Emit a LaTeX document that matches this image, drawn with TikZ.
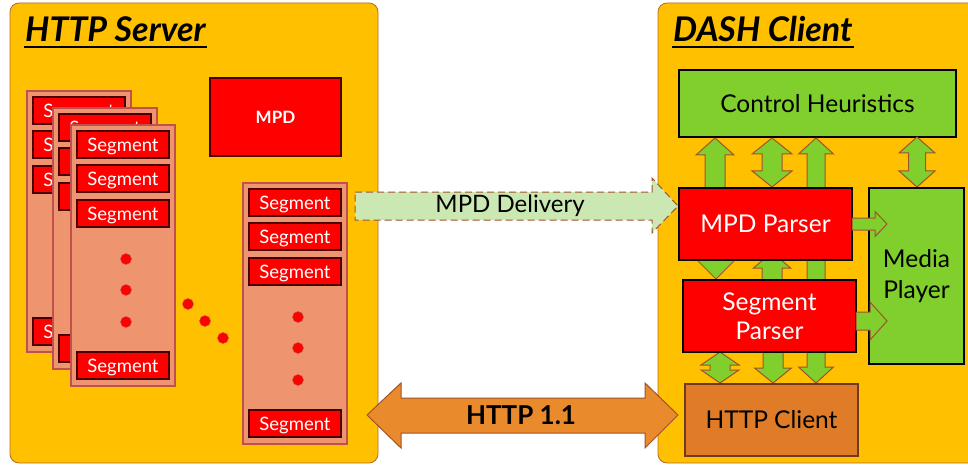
\documentclass[tikz,border=0pt]{standalone}
\usepackage{fontspec}
\setmainfont{Lato}
\definecolor{panelfill}{HTML}{FFC000}
\definecolor{paneldraw}{HTML}{B8692A}
\definecolor{pagefill}{HTML}{EE9570}
\definecolor{pagedraw}{HTML}{C0504D}
\definecolor{segred}{HTML}{FF0000}
\definecolor{segdraw}{HTML}{4A0000}
\definecolor{grn}{HTML}{80CF2C}
\definecolor{brn}{HTML}{A0522D}
\definecolor{httpfill}{HTML}{E07C28}
\definecolor{httparrow}{HTML}{E98A2C}
\definecolor{mpdfill}{HTML}{CBE8B3}
\newcommand\fs[1]{\fontsize{#1}{#1}\selectfont}
% box from corner to corner: style, name, x1, y1, x2, y2, text
\newcommand\boxn[7]{\node[#1, minimum width={((#5)-(#3))*1pt}, minimum height={((#6)-(#4))*1pt}] (#2) at ({((#3)+(#5))/2},{((#4)+(#6))/2}) {#7};}
\newcommand\garrUD[6]{\draw[garrow] (#1,#2) -- (#1+#5,#2+#6) -- (#1+#4,#2+#6) -- (#1+#4,#3-#6) -- (#1+#5,#3-#6) -- (#1,#3) -- (#1-#5,#3-#6) -- (#1-#4,#3-#6) -- (#1-#4,#2+#6) -- (#1-#5,#2+#6) -- cycle;}
\newcommand\garrU[6]{\draw[garrow] (#1,#2) -- (#1+#5,#2+#6) -- (#1+#4,#2+#6) -- (#1+#4,#3) -- (#1-#4,#3) -- (#1-#4,#2+#6) -- (#1-#5,#2+#6) -- cycle;}
\newcommand\garrD[6]{\draw[garrow] (#1,#3) -- (#1+#5,#3-#6) -- (#1+#4,#3-#6) -- (#1+#4,#2) -- (#1-#4,#2) -- (#1-#4,#3-#6) -- (#1-#5,#3-#6) -- cycle;}
\newcommand\garrR[6]{\draw[garrow] (#3,#1) -- (#3-#6,#1-#5) -- (#3-#6,#1-#4) -- (#2,#1-#4) -- (#2,#1+#4) -- (#3-#6,#1+#4) -- (#3-#6,#1+#5) -- cycle;}
\newcommand\segpage[3]{%
  \boxn{pagebox}{#1}{#2}{#3}{#2+104}{#3+261}{}
  \boxn{segbox}{#1s1}{#2+6}{#3+6}{#2+98}{#3+33}{Segment}
  \boxn{segbox}{#1s2}{#2+6}{#3+40}{#2+98}{#3+67}{Segment}
  \boxn{segbox}{#1s3}{#2+6}{#3+75}{#2+98}{#3+102}{Segment}
  \boxn{segbox}{#1s4}{#2+6}{#3+227}{#2+98}{#3+254}{Segment}
  \node[dotn] (#1d1) at (#2+55,#3+134) {};
  \node[dotn] (#1d2) at (#2+55,#3+165) {};
  \node[dotn] (#1d3) at (#2+55,#3+197) {};
}
\begin{document}
\begin{tikzpicture}[x=1pt,y=-1pt,
  panel/.style={fill=panelfill, draw=paneldraw, line width=0.8pt, rounded corners=9pt},
  pagebox/.style={fill=pagefill, draw=pagedraw, line width=1.2pt, inner sep=0pt},
  segbox/.style={fill=segred, draw=segdraw, line width=1.3pt, inner sep=0pt, text=white, font=\fs{18.5}, text depth=0pt},
  dotn/.style={circle, fill=segred, draw=pagedraw, line width=0.4pt, minimum size=11pt, inner sep=0pt},
  bigbox/.style={draw=black, line width=1.3pt, inner sep=0pt, align=center, font=\fs{24.5}},
  garrow/.style={fill=grn, draw=brn, line width=1pt, line join=miter},
  title/.style={font=\fs{34}\bfseries\itshape, anchor=base west, inner sep=0pt}
]
\useasboundingbox (0,0) rectangle (968,465);
\fill[white] (0,0) rectangle (968,465);

% ---------- HTTP Server panel
\draw[panel] (10,3) rectangle (378,463);
\node[title] (srvtitle) at (25,42) {HTTP Server};
\draw[line width=1.3pt] ([yshift=-5pt,xshift=-1pt]srvtitle.base west) -- ([yshift=-5pt,xshift=1pt]srvtitle.base east);

\boxn{segbox, font=\fs{17}\bfseries}{mpd}{210}{78}{341}{156}{MPD}

\segpage{pa}{27}{91}
\segpage{pb}{53}{108}
\segpage{pc}{71}{125}
\segpage{pr}{243}{183}

\node[dotn] (dd1) at (188,304) {};
\node[dotn] (dd2) at (205,321) {};
\node[dotn] (dd3) at (223,338) {};

% ---------- DASH Client panel
\draw[panel] (658,3) rectangle (990,463);
\node[title] (clititle) at (673,42) {DASH Client};
\draw[line width=1.3pt] ([yshift=-5pt,xshift=-1pt]clititle.base west) -- ([yshift=-5pt,xshift=1pt]clititle.base east);

\boxn{bigbox, fill=grn}{ch}{679}{70}{956}{137}{Control Heuristics}

% arrows behind the boxes
\garrUD{816}{138}{383}{9}{17.5}{16}
\garrU{715}{138}{190}{10}{19}{17}
\garrUD{772}{138}{187}{10}{20}{16}
\garrD{716}{250}{279}{10}{19}{19}
\garrU{772}{252}{283}{10}{18.5}{16}
\garrUD{720}{352}{383}{10}{19}{13}
\garrD{773}{345}{383}{10}{18.5}{15}
\garrUD{917}{137}{187}{8.5}{18}{16}

\boxn{bigbox, fill=segred, text=white}{mpdp}{679}{188}{852}{260}{MPD Parser}
\boxn{bigbox, fill=segred, text=white}{segp}{683}{280}{856}{352}{Segment\\[4.5pt]Parser}
\boxn{bigbox, fill=grn}{mp}{869}{188}{964}{364}{Media\\[6.5pt]Player}
\boxn{bigbox, fill=httpfill, draw=brn!70!black}{httpc}{685}{384}{858}{456}{HTTP Client}

\garrR{224}{852}{887}{6}{12.5}{12}
\garrR{321}{856}{887}{9}{19}{17}

% ---------- between panels
\draw[fill=mpdfill, draw=brn, line width=1pt, dashed, dash pattern=on 7pt off 4pt]
  (355,192) -- (652,192) -- (652,178) -- (678,206) -- (652,233) -- (652,220) -- (355,220) -- cycle;
\node[font=\fs{24}] (mpddel) at (510,206) {MPD Delivery};

\draw[fill=httparrow, draw=brn, line width=1pt]
  (367,415) -- (401,383) -- (401,398) -- (645,398) -- (645,383) -- (678,415)
  -- (645,448) -- (645,433) -- (401,433) -- (401,448) -- cycle;
\node[font=\fs{26}\bfseries] (httpver) at (521,415) {HTTP 1.1};
\end{tikzpicture}
\end{document}
